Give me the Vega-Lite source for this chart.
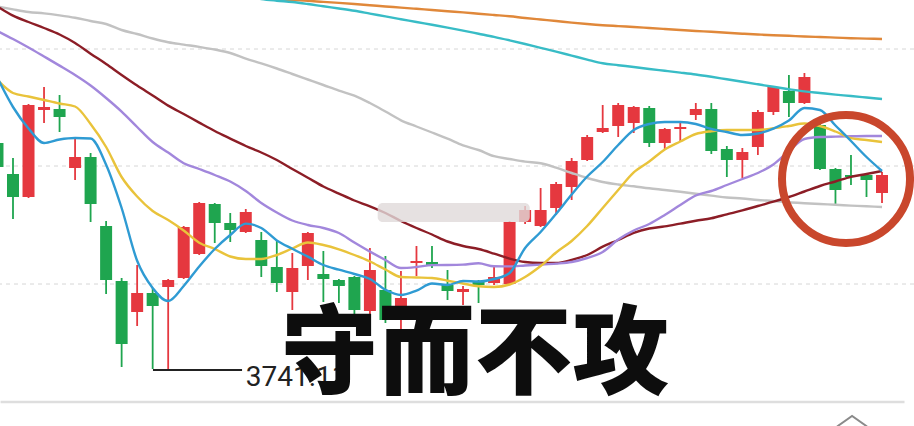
{
  "$schema": "https://vega.github.io/schema/vega-lite/v6.json",
  "width": 914,
  "height": 426,
  "padding": 0,
  "autosize": "none",
  "background": "white",
  "config": {"view": {"stroke": null}},
  "datasets": {
    "days": [
      {"i":-1,"o":3968,"h":3971,"l":3941,"c":3944,"m5":4033,"m10":4031,"m20":4080,"m30":4104.5,"m60":4104.5},
      {"i":0,"o":3937,"h":3953,"l":3892,"c":3914,"m5":4004,"m10":4018,"m20":4072,"m30":4095.4,"m60":4101.6},
      {"i":1,"o":3914,"h":4007,"l":3913,"c":4006,"m5":3982.5,"m10":4014.5,"m20":4063.5,"m30":4089,"m60":4099},
      {"i":2,"o":4001,"h":4024,"l":3988,"c":4004,"m5":3968,"m10":4011,"m20":4054.5,"m30":4083,"m60":4097.6},
      {"i":3,"o":4002,"h":4016,"l":3979,"c":3994,"m5":3971.5,"m10":4007.5,"m20":4045.4,"m30":4076.5,"m60":4095.6},
      {"i":4,"o":3943,"h":3973,"l":3931,"c":3954,"m5":3973,"m10":4004.5,"m20":4036,"m30":4068,"m60":4093.2},
      {"i":5,"o":3954,"h":3958,"l":3889,"c":3907,"m5":3972.5,"m10":3987,"m20":4025.5,"m30":4057.3,"m60":4090},
      {"i":6,"o":3885,"h":3890,"l":3817,"c":3831,"m5":3946.3,"m10":3964,"m20":4013,"m30":4047,"m60":4087},
      {"i":7,"o":3830,"h":3833,"l":3744,"c":3767,"m5":3903,"m10":3934,"m20":3999.4,"m30":4036,"m60":4081},
      {"i":8,"o":3799,"h":3846,"l":3785,"c":3818,"m5":3850.2,"m10":3914.5,"m20":3984,"m30":4025.4,"m60":4077},
      {"i":9,"o":3818,"h":3823,"l":3742,"c":3805,"m5":3823,"m10":3900,"m20":3969,"m30":4015.5,"m60":4072.5},
      {"i":10,"o":3824,"h":3832,"l":3741.11,"c":3831,"m5":3810,"m10":3891,"m20":3958.4,"m30":4005.4,"m60":4068.8},
      {"i":11,"o":3833,"h":3885,"l":3832,"c":3884,"m5":3825,"m10":3880.5,"m20":3947.8,"m30":3997,"m60":4066.4},
      {"i":12,"o":3857,"h":3909,"l":3856,"c":3908,"m5":3844.5,"m10":3868.3,"m20":3942,"m30":3988.4,"m60":4064.1},
      {"i":13,"o":3907,"h":3908,"l":3868,"c":3888,"m5":3862,"m10":3862,"m20":3936,"m30":3980,"m60":4061.5},
      {"i":14,"o":3888,"h":3898,"l":3869,"c":3881,"m5":3876,"m10":3854.5,"m20":3929.5,"m30":3972.4,"m60":4058},
      {"i":15,"o":3879,"h":3902,"l":3878,"c":3899,"m5":3887.4,"m10":3852,"m20":3920,"m30":3965,"m60":4052.4,"m120":4115,"m250":4115},
      {"i":16,"o":3871,"h":3879,"l":3834,"c":3845,"m5":3883,"m10":3852,"m20":3908,"m30":3958.5,"m60":4047.6,"m120":4112,"m250":4113.5},
      {"i":17,"o":3844,"h":3871,"l":3819,"c":3828,"m5":3870.6,"m10":3856,"m20":3898.5,"m30":3951,"m60":4042.5,"m120":4110.3,"m250":4112},
      {"i":18,"o":3819,"h":3858,"l":3801,"c":3843,"m5":3862.2,"m10":3862.5,"m20":3890.5,"m30":3942,"m60":4037,"m120":4109,"m250":4111},
      {"i":19,"o":3845,"h":3879,"l":3831,"c":3878,"m5":3854.4,"m10":3868.5,"m20":3886,"m30":3933.3,"m60":4031.5,"m120":4107,"m250":4110.2},
      {"i":20,"o":3837,"h":3860,"l":3809,"c":3832,"m5":3846,"m10":3866,"m20":3883,"m30":3924.5,"m60":4026,"m120":4104.7,"m250":4109.1},
      {"i":21,"o":3831,"h":3832,"l":3808,"c":3825,"m5":3841.3,"m10":3861.7,"m20":3878,"m30":3917.4,"m60":4020.4,"m120":4102.5,"m250":4108.1},
      {"i":22,"o":3834,"h":3835,"l":3797,"c":3801,"m5":3837,"m10":3856,"m20":3868.5,"m30":3910.5,"m60":4015.4,"m120":4100.2,"m250":4107},
      {"i":23,"o":3800,"h":3863,"l":3788,"c":3841,"m5":3832,"m10":3849.5,"m20":3859.4,"m30":3904.7,"m60":4008,"m120":4097.4,"m250":4105.8},
      {"i":24,"o":3821,"h":3855,"l":3788,"c":3791,"m5":3821.2,"m10":3841.5,"m20":3851,"m30":3898,"m60":3999.5,"m120":4094.6,"m250":4104.5},
      {"i":25,"o":3798,"h":3840,"l":3778,"c":3813,"m5":3816,"m10":3834,"m20":3843,"m30":3890,"m60":3990.7,"m120":4091.8,"m250":4103.4},
      {"i":26,"o":3848,"h":3865,"l":3835,"c":3850,"m5":3820.4,"m10":3833.5,"m20":3844,"m30":3883,"m60":3984.5,"m120":4089,"m250":4102.2},
      {"i":27,"o":3849,"h":3865,"l":3843,"c":3846,"m5":3827.5,"m10":3833,"m20":3845.9,"m30":3876.5,"m60":3978.5,"m120":4086.2,"m250":4101},
      {"i":28,"o":3826,"h":3841,"l":3811,"c":3820,"m5":3826,"m10":3830.3,"m20":3846,"m30":3869.5,"m60":3972.3,"m120":4083.4,"m250":4099.8},
      {"i":29,"o":3819,"h":3825,"l":3806,"c":3822,"m5":3830,"m10":3827.5,"m20":3846.4,"m30":3865,"m60":3965.6,"m120":4080.4,"m250":4098.6},
      {"i":30,"o":3830,"h":3831,"l":3808,"c":3826,"m5":3829.5,"m10":3824.7,"m20":3847.7,"m30":3862,"m60":3961,"m120":4077.3,"m250":4097.3},
      {"i":31,"o":3828,"h":3846,"l":3826,"c":3834,"m5":3832,"m10":3824,"m20":3844.7,"m30":3857.4,"m60":3954.8,"m120":4074.2,"m250":4096},
      {"i":32,"o":3827,"h":3890,"l":3826,"c":3889,"m5":3838,"m10":3826.5,"m20":3844.6,"m30":3852.4,"m60":3952,"m120":4070.7,"m250":4094.7},
      {"i":33,"o":3889,"h":3905,"l":3887,"c":3901,"m5":3863,"m10":3834,"m20":3845.5,"m30":3849,"m60":3949.4,"m120":4067,"m250":4093},
      {"i":34,"o":3885,"h":3923,"l":3884,"c":3901,"m5":3879,"m10":3845,"m20":3846.4,"m30":3848,"m60":3947.7,"m120":4063.2,"m250":4091.5},
      {"i":35,"o":3903,"h":3929,"l":3896,"c":3927,"m5":3897.2,"m10":3858.5,"m20":3847.4,"m30":3848,"m60":3943.3,"m120":4059.4,"m250":4090},
      {"i":36,"o":3924,"h":3953,"l":3911,"c":3950,"m5":3916.5,"m10":3870,"m20":3849,"m30":3851,"m60":3938,"m120":4055.4,"m250":4088.4},
      {"i":37,"o":3951,"h":3976,"l":3950,"c":3974,"m5":3934.5,"m10":3885,"m20":3853,"m30":3856,"m60":3933,"m120":4051.4,"m250":4087},
      {"i":38,"o":3979,"h":4006,"l":3978,"c":3983,"m5":3949,"m10":3903,"m20":3859,"m30":3864.3,"m60":3929,"m120":4047.7,"m250":4085.8},
      {"i":39,"o":3985,"h":4008,"l":3974,"c":4006,"m5":3966,"m10":3921,"m20":3871.5,"m30":3871,"m60":3926.5,"m120":4045.8,"m250":4084.9},
      {"i":40,"o":3988,"h":4005,"l":3978,"c":4004,"m5":3981,"m10":3938.6,"m20":3880.5,"m30":3878.2,"m60":3924.7,"m120":4044,"m250":4084},
      {"i":41,"o":4003,"h":4005,"l":3964,"c":3968,"m5":3987,"m10":3949.5,"m20":3887,"m30":3882.5,"m60":3922.7,"m120":4042,"m250":4083},
      {"i":42,"o":3968,"h":3983,"l":3962,"c":3982,"m5":3989,"m10":3961.5,"m20":3896,"m30":3884.6,"m60":3921,"m120":4040.2,"m250":4082},
      {"i":43,"o":3982,"h":3988,"l":3969,"c":3984,"m5":3989,"m10":3969.5,"m20":3906,"m30":3887.4,"m60":3919.2,"m120":4038.4,"m250":4081},
      {"i":44,"o":3996,"h":4008,"l":3991,"c":4002,"m5":3987,"m10":3977,"m20":3915.5,"m30":3890.3,"m60":3917.2,"m120":4036.5,"m250":4080},
      {"i":45,"o":4002,"h":4008,"l":3957,"c":3960,"m5":3982,"m10":3979.8,"m20":3920,"m30":3892.7,"m60":3915.4,"m120":4034.2,"m250":4079.2},
      {"i":46,"o":3962,"h":3965,"l":3934,"c":3951,"m5":3979,"m10":3981,"m20":3926,"m30":3896.7,"m60":3913.5,"m120":4031.7,"m250":4078.2},
      {"i":47,"o":3951,"h":3963,"l":3933,"c":3959,"m5":3976,"m10":3981,"m20":3932,"m30":3900.6,"m60":3912.5,"m120":4029.2,"m250":4077.3},
      {"i":48,"o":3964,"h":4001,"l":3956,"c":3999,"m5":3977.5,"m10":3981,"m20":3938,"m30":3905,"m60":3911,"m120":4026.7,"m250":4076.5},
      {"i":49,"o":3999,"h":4025,"l":3996,"c":4024,"m5":3982.4,"m10":3982.7,"m20":3946.5,"m30":3909.3,"m60":3910,"m120":4024.2,"m250":4075.8},
      {"i":50,"o":4020,"h":4036,"l":3994,"c":4008,"m5":3990.5,"m10":3985,"m20":3960,"m30":3914,"m60":3908.7,"m120":4021.8,"m250":4075.2},
      {"i":51,"o":4008,"h":4038,"l":4007,"c":4034,"m5":4003,"m10":3987.5,"m20":3972,"m30":3919.5,"m60":3907.8,"m120":4019.6,"m250":4074.5},
      {"i":52,"o":3986,"h":3991,"l":3941,"c":3942,"m5":4001,"m10":3985,"m20":3974,"m30":3925,"m60":3907,"m120":4018,"m250":4074},
      {"i":53,"o":3942,"h":3943,"l":3907,"c":3921,"m5":3985.5,"m10":3979.5,"m20":3974.4,"m30":3929.5,"m60":3906.2,"m120":4016.4,"m250":4073.4},
      {"i":54,"o":3936,"h":3956,"l":3926,"c":3934,"m5":3970,"m10":3972.8,"m20":3974.7,"m30":3934.2,"m60":3905.4,"m120":4015,"m250":4072.8},
      {"i":55,"o":3936,"h":3937,"l":3914,"c":3931,"m5":3954,"m10":3971,"m20":3975,"m30":3937,"m60":3904.7,"m120":4013.5,"m250":4072.4},
      {"i":56,"o":3918,"h":3939,"l":3908,"c":3936,"m5":3940,"m10":3969,"m20":3975,"m30":3940,"m60":3904,"m120":4012,"m250":4072}
    ],
    "grid": [{"p": 4062}, {"p": 3945}, {"p": 3827}],
    "base": [{"a": -0.8, "b": 57.45, "p": 3709}],
    "lowline": [{"a": 9.02, "b": 14.76, "p": 3741.11}],
    "lowlabel": [{"i": 15.0, "p": 3725, "t": "3741.11"}],
    "title": [{"i": 29.77, "p": 3725, "t": "守而不攻"}],
    "mask": [{"a": 23.5, "b": 33.3, "p1": 3908, "p2": 3889}],
    "ring": [{"i": 53.68, "p": 3932}],
    "chev": [{"i": 54.07, "p": 3695}]
  },
  "layer": [
    {
      "data": {"name": "grid"},
      "mark": {"type": "rule", "color": "#d6d6d6", "strokeWidth": 1, "strokeDash": [4, 4]},
      "encoding": {
        "y": {"field": "p", "type": "quantitative", "axis": null, "scale": {"domain": [3685, 4111], "nice": false, "zero": false, "padding": 0}}
      }
    },
    {
      "data": {"name": "base"},
      "mark": {"type": "rule", "color": "#dedede", "strokeWidth": 2.5},
      "encoding": {
        "x": {"field": "a", "type": "quantitative", "axis": null, "scale": {"domain": [-0.8377, 58.061], "nice": false, "zero": false, "padding": 0}},
        "x2": {"field": "b"},
        "y": {"field": "p", "type": "quantitative", "axis": null}
      }
    },
    {
      "data": {"name": "days"},
      "mark": {"type": "rule", "strokeWidth": 1.8, "clip": true},
      "encoding": {
        "x": {"field": "i", "type": "quantitative", "axis": null},
        "y": {"field": "l", "type": "quantitative", "axis": null},
        "y2": {"field": "h"},
        "color": {"condition": {"test": "datum.c >= datum.o", "value": "#e5383f"}, "value": "#1fa54f"}
      }
    },
    {
      "data": {"name": "days"},
      "mark": {"type": "bar", "size": 12, "clip": true},
      "encoding": {
        "x": {"field": "i", "type": "quantitative", "axis": null, "scale": {"padding": 0}},
        "y": {"field": "o", "type": "quantitative", "axis": null},
        "y2": {"field": "c"},
        "color": {"condition": {"test": "datum.c >= datum.o", "value": "#e5383f"}, "value": "#1fa54f"}
      }
    },
    {
      "data": {"name": "days"},
      "transform": [{"fold": ["m250", "m120", "m60", "m30", "m20", "m10", "m5"], "as": ["ma", "v"]}],
      "mark": {"type": "line", "strokeWidth": 2.4, "clip": true, "interpolate": "monotone"},
      "encoding": {
        "x": {"field": "i", "type": "quantitative", "axis": null},
        "y": {"field": "v", "type": "quantitative", "axis": null},
        "color": {
          "field": "ma", "type": "nominal", "legend": null,
          "scale": {
            "domain": ["m5", "m10", "m20", "m30", "m60", "m120", "m250"],
            "range": ["#2f9bd3", "#e9c33b", "#a287dc", "#8c1d26", "#c2c2c2", "#38bcc6", "#e0883a"]
          }
        },
        "order": {"field": "i", "type": "quantitative"}
      }
    },
    {
      "data": {"name": "mask"},
      "mark": {"type": "rect", "fill": "#e0dada", "opacity": 0.8, "cornerRadius": 5},
      "encoding": {
        "x": {"field": "a", "type": "quantitative", "axis": null},
        "x2": {"field": "b"},
        "y": {"field": "p1", "type": "quantitative", "axis": null},
        "y2": {"field": "p2"}
      }
    },
    {
      "data": {"name": "lowline"},
      "mark": {"type": "rule", "color": "#222222", "strokeWidth": 2},
      "encoding": {
        "x": {"field": "a", "type": "quantitative", "axis": null},
        "x2": {"field": "b"},
        "y": {"field": "p", "type": "quantitative", "axis": null}
      }
    },
    {
      "data": {"name": "lowlabel"},
      "mark": {"type": "text", "font": "Roboto", "fontSize": 28, "color": "#222222", "align": "left", "baseline": "alphabetic"},
      "encoding": {
        "x": {"field": "i", "type": "quantitative", "axis": null},
        "y": {"field": "p", "type": "quantitative", "axis": null},
        "text": {"field": "t"}
      }
    },
    {
      "data": {"name": "title"},
      "mark": {"type": "text", "font": "Noto Sans CJK SC", "fontWeight": 900, "fontSize": 97, "color": "#0d0d0d", "align": "center", "baseline": "alphabetic"},
      "encoding": {
        "x": {"field": "i", "type": "quantitative", "axis": null},
        "y": {"field": "p", "type": "quantitative", "axis": null},
        "text": {"field": "t"}
      }
    },
    {
      "data": {"name": "ring"},
      "mark": {"type": "point", "shape": "circle", "size": 16384, "filled": false, "stroke": "#c9472c", "strokeWidth": 8, "opacity": 1},
      "encoding": {
        "x": {"field": "i", "type": "quantitative", "axis": null},
        "y": {"field": "p", "type": "quantitative", "axis": null}
      }
    },
    {
      "data": {"name": "chev"},
      "mark": {"type": "point", "shape": "M-1,0.7L0,0L1,0.7", "size": 900, "filled": false, "stroke": "#8a8a8a", "strokeWidth": 2, "opacity": 1, "clip": true},
      "encoding": {
        "x": {"field": "i", "type": "quantitative", "axis": null},
        "y": {"field": "p", "type": "quantitative", "axis": null}
      }
    }
  ]
}
